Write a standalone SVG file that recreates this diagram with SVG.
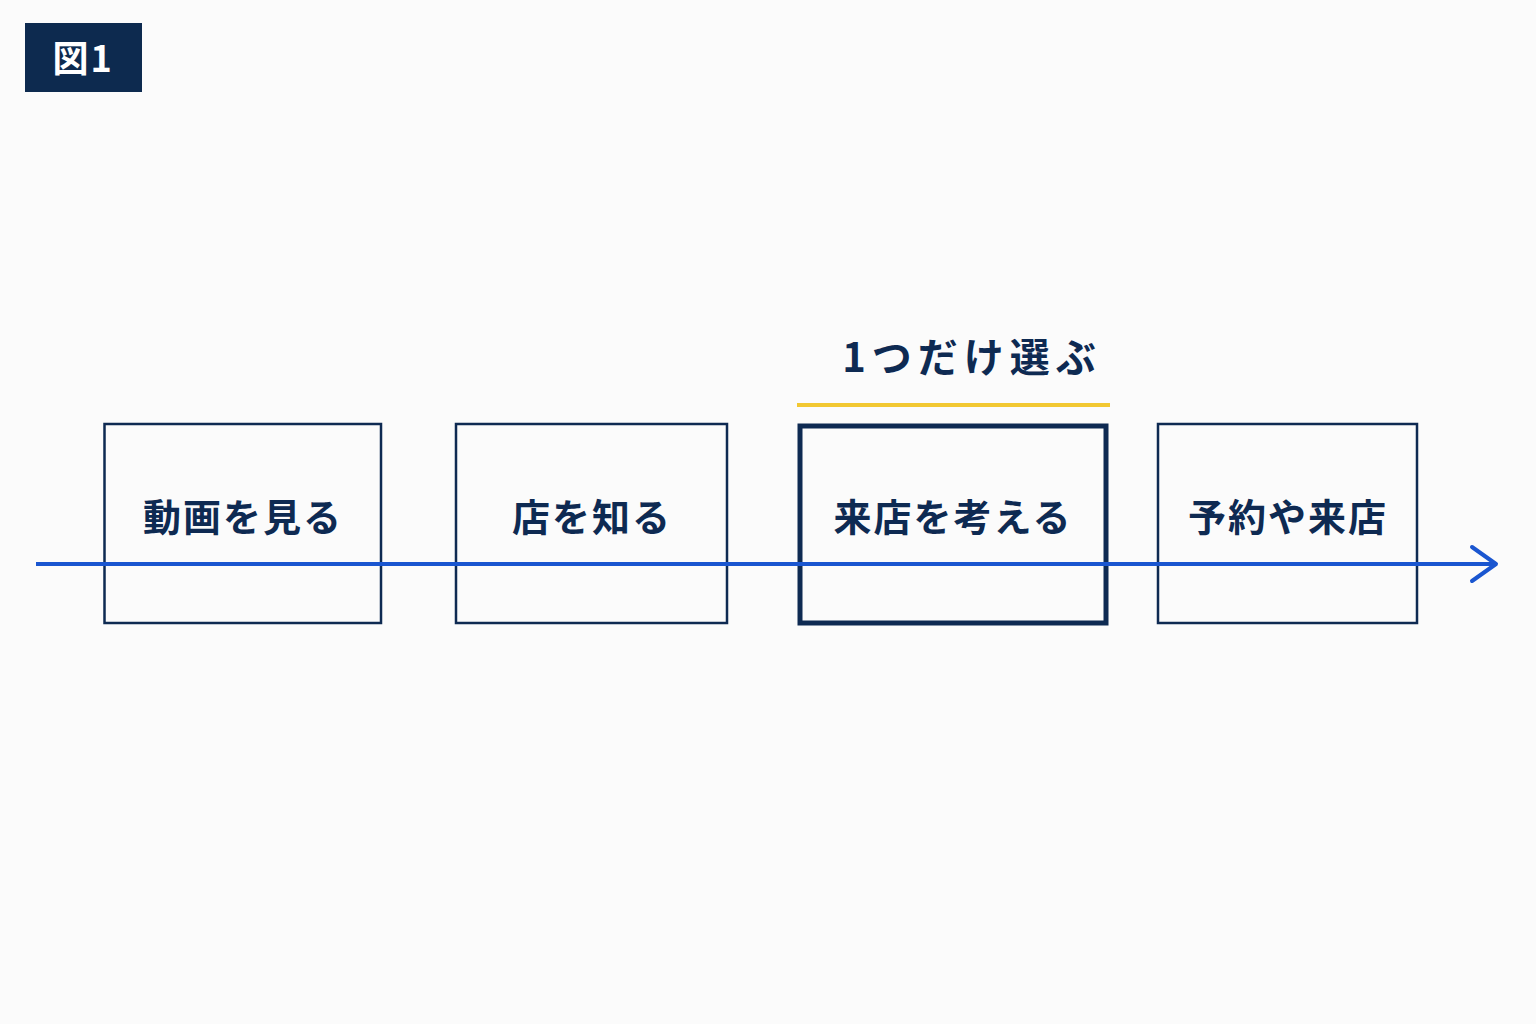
<svg xmlns="http://www.w3.org/2000/svg" width="1536" height="1024" viewBox="0 0 1536 1024">
<style>
.box{fill:#fbfbfb;stroke:#0e2a52;stroke-width:2.5}
.t{font-family:"Noto Sans CJK JP","Noto Sans",sans-serif;font-weight:700;fill:#0e2a52;font-size:38px;text-anchor:middle;letter-spacing:2px}
</style>
<rect width="1536" height="1024" fill="#fbfbfb"/>
<g id="title"><rect x="25" y="23" width="117" height="69" fill="#0d2a4f"/><text x="83" y="72" class="t" style="fill:#fff;font-size:36px">図1</text></g>
<g id="n1"><rect class="box" x="104.5" y="424" width="276.5" height="199"/><text class="t" x="243" y="531">動画を見る</text></g>
<g id="n2"><rect class="box" x="456" y="424" width="271" height="199"/><text class="t" x="592" y="531">店を知る</text></g>
<g id="n3"><rect class="box" x="800" y="426" width="306" height="197" style="stroke-width:5"/><text class="t" x="953" y="531">来店を考える</text></g>
<g id="n4"><rect class="box" x="1158" y="424" width="259" height="199"/><text class="t" x="1288" y="531">予約や来店</text></g>
<g id="label"><line x1="797" y1="405" x2="1110" y2="405" stroke="#f2c832" stroke-width="4"/><text class="t" x="972" y="372" style="font-size:40px;letter-spacing:6px">1つだけ選ぶ</text></g>
<g id="connectors"><line x1="36" y1="564" x2="1496" y2="564" stroke="#1a56d0" stroke-width="4"/><polyline points="1472,547 1496,564 1472,581" fill="none" stroke="#1a56d0" stroke-width="4" stroke-linecap="round" stroke-linejoin="round"/></g>
</svg>
